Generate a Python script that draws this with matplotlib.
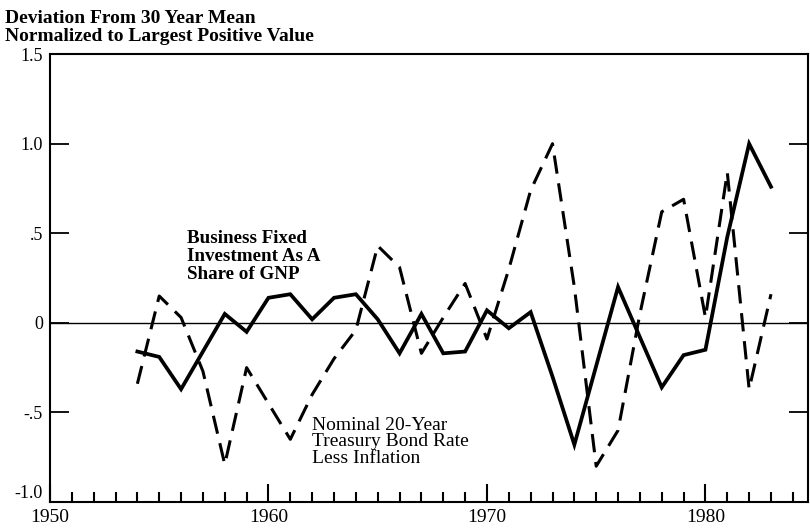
import numpy as np
import matplotlib
matplotlib.use("Agg")
import matplotlib.pyplot as plt
from matplotlib.ticker import MultipleLocator

# %% Data (deviation from 30 year mean, normalized)
years = list(range(1954, 1984))

investment = [-0.16, -0.19, -0.37, -0.16, 0.05, -0.05, 0.14, 0.16, 0.02, 0.14,
              0.16, 0.02, -0.17, 0.05, -0.17, -0.16, 0.07, -0.03, 0.06, -0.30,
              -0.68, -0.24, 0.20, -0.08, -0.36, -0.18, -0.15, 0.48, 1.00, 0.76]

bond_rate = [-0.34, 0.15, 0.03, -0.27, -0.79, -0.25, -0.45, -0.65, -0.40, -0.20,
             -0.04, 0.43, 0.31, -0.17, 0.03, 0.22, -0.09, 0.30, 0.74, 1.00,
             0.20, -0.80, -0.60, 0.05, 0.62, 0.69, 0.03, 0.84, -0.37, 0.16]

ytick_vals = [-1.0, -0.5, 0, 0.5, 1.0, 1.5]
ytick_text = ['-1.0', '-.5', '0', '.5', '1.0', '1.5']
decades = [1950, 1960, 1970, 1980]

plt.rcParams['font.family'] = ['Liberation Serif', 'DejaVu Serif']

fig = plt.figure(figsize=(8.1, 5.3), dpi=100)
ax = fig.add_axes([0.0617, 0.0528, 0.936, 0.845])

ax.plot(years, investment, color='black', lw=2.7, solid_joinstyle='miter')
ax.plot(years, bond_rate, color='black', lw=2.2, dashes=(6, 3.2))
ax.axhline(0, color='black', lw=1.0)

ax.set_xlim(1950, 1984.7)
ax.set_ylim(-1.0, 1.5)

ax.set_xticks(decades)
ax.set_xticklabels([str(d) for d in decades], fontsize=14)
ax.xaxis.set_minor_locator(MultipleLocator(1))
ax.tick_params(axis='x', which='major', direction='in', length=13, width=1.5, pad=5)
ax.tick_params(axis='x', which='minor', direction='in', length=7.5, width=1.5)

ax.set_yticks(ytick_vals)
ax.set_yticklabels(ytick_text, fontsize=13)
ax.tick_params(axis='y', which='major', left=True, right=True, direction='in',
               length=14, width=1.3, pad=5)
# lift the bottom label a touch so it clears the 1950 label
ax.get_yticklabels()[0].set_verticalalignment('bottom')

for s in ax.spines.values():
    s.set_linewidth(1.5)

fig.text(0.006, 0.982, 'Deviation From 30 Year Mean\nNormalized to Largest Positive Value',
         ha='left', va='top', fontsize=14, fontweight='bold', linespacing=1.1)

ax.text(1956.27, 0.52, 'Business Fixed\nInvestment As A\nShare of GNP',
        ha='left', va='top', fontsize=13.7, fontweight='bold', linespacing=1.1)
ax.text(1962.0, -0.525, 'Nominal 20-Year\nTreasury Bond Rate\nLess Inflation',
        ha='left', va='top', fontsize=14, linespacing=0.95)

fig.savefig('out.png', dpi=100)
